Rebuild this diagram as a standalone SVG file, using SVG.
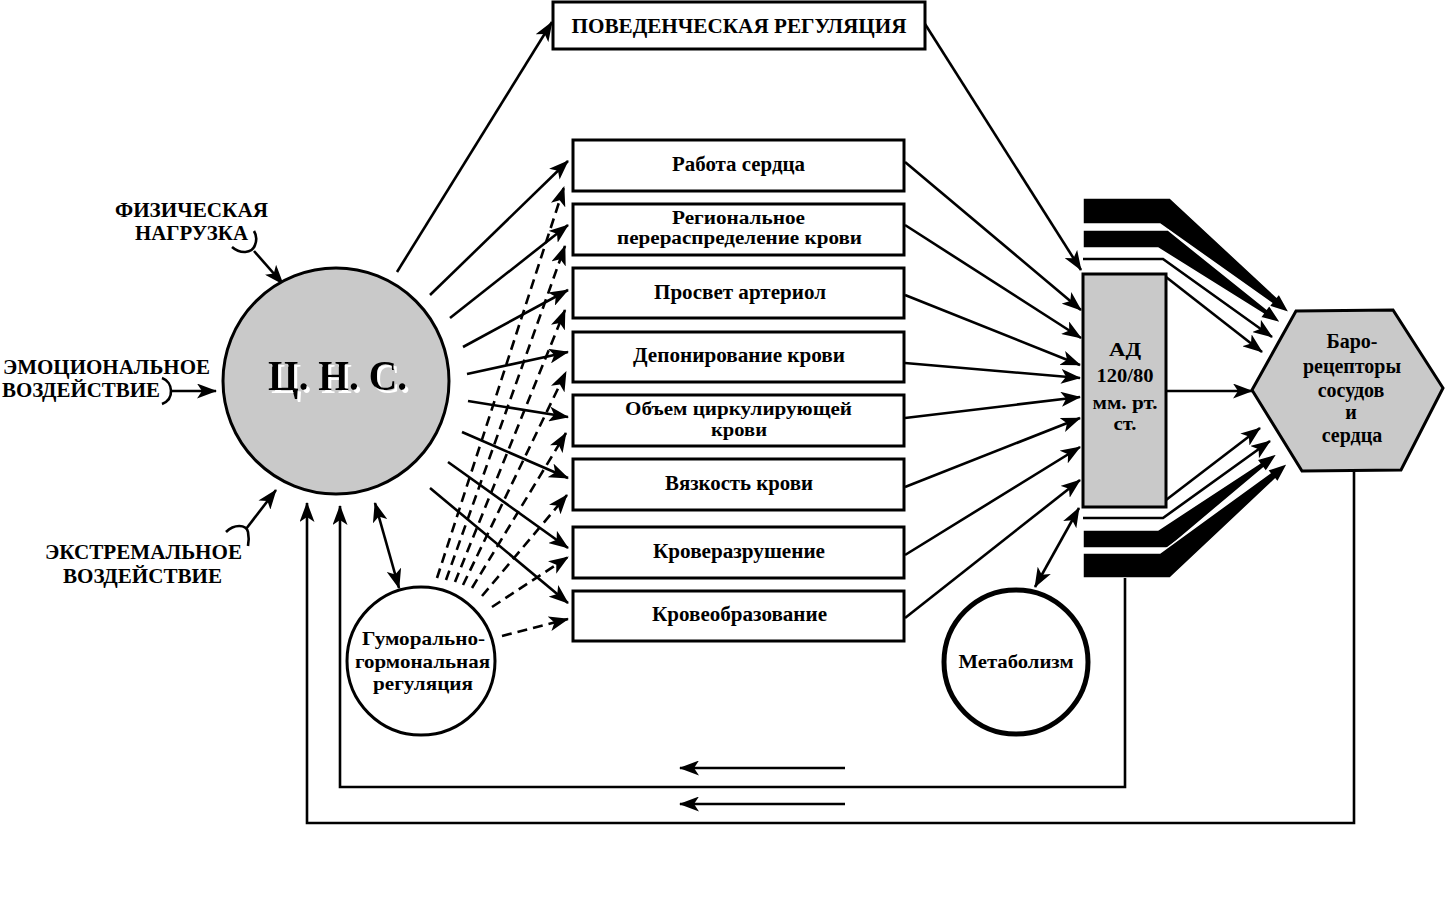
<svg xmlns="http://www.w3.org/2000/svg" width="1451" height="902" viewBox="0 0 1451 902">
<style>
text{font-family:"Liberation Serif","Times New Roman",serif;font-weight:bold;fill:#000;text-anchor:middle}
.box{fill:#fff;stroke:#000;stroke-width:3}
.gray{fill:#c9c9c9;stroke:#000;stroke-width:3}
.ln{fill:none;stroke:#000;stroke-width:2.6}
.arr{fill:none;stroke:#000;stroke-width:2.6;marker-end:url(#ah)}
.dash{fill:none;stroke:#000;stroke-width:2.6;stroke-dasharray:10 6;marker-end:url(#ah)}
.dbl{fill:none;stroke:#000;stroke-width:2.6;marker-end:url(#ah);marker-start:url(#ahs)}
.band{fill:#000;stroke:#fff;stroke-width:1.5}
.t20{font-size:20px}
.t18{font-size:18.5px}
.hx{font-size:20px}
.lbl{font-size:20px;text-anchor:start}
</style>
<defs>
<marker id="ah" markerUnits="userSpaceOnUse" markerWidth="20" markerHeight="15" refX="19" refY="7.5" orient="auto">
<path d="M0,0 L20,7.5 L0,15 L5,7.5 z" fill="#000" stroke="none"/>
</marker>
<marker id="ahs" markerUnits="userSpaceOnUse" markerWidth="20" markerHeight="15" refX="19" refY="7.5" orient="auto-start-reverse">
<path d="M0,0 L20,7.5 L0,15 L5,7.5 z" fill="#000" stroke="none"/>
</marker>
<filter id="wsh" x="-10%" y="-20%" width="120%" height="140%">
<feOffset in="SourceAlpha" dx="3" dy="2.5" result="o"/>
<feFlood flood-color="#fff"/>
<feComposite in2="o" operator="in" result="s"/>
<feMerge><feMergeNode in="s"/><feMergeNode in="SourceGraphic"/></feMerge>
</filter>
</defs>
<rect width="1451" height="902" fill="#fff"/>

<g id="connectors">
<path class="ln" d="M232,247 C240,254 252,254 255,245 C257,240 257,236 254,231"/>
<line class="arr" x1="254" y1="251" x2="283" y2="284"/>
<path class="ln" d="M162,378 C173,382 175,399 162,404"/>
<line class="arr" x1="172" y1="391" x2="216" y2="391"/>
<path class="ln" d="M226,532 C234,524 246,524 248,532 C249,537 249,541 248,546"/>
<line class="arr" x1="246" y1="529" x2="276" y2="490"/>
<line class="arr" x1="397" y1="272" x2="552" y2="22"/>
<line class="arr" x1="430" y1="295" x2="568" y2="161"/>
<line class="arr" x1="450" y1="318" x2="568" y2="225"/>
<line class="arr" x1="463" y1="347" x2="568" y2="290"/>
<line class="arr" x1="467" y1="374" x2="568" y2="352"/>
<line class="arr" x1="468" y1="401" x2="568" y2="417"/>
<line class="arr" x1="462" y1="432" x2="568" y2="478"/>
<line class="arr" x1="448" y1="462" x2="568" y2="548"/>
<line class="arr" x1="430" y1="488" x2="568" y2="603"/>
<line class="dash" x1="437" y1="578" x2="564" y2="187"/>
<line class="dash" x1="446" y1="580" x2="565" y2="246"/>
<line class="dash" x1="455" y1="582" x2="565" y2="310"/>
<line class="dash" x1="463" y1="585" x2="566" y2="372"/>
<line class="dash" x1="472" y1="588" x2="566" y2="433"/>
<line class="dash" x1="482" y1="596" x2="567" y2="495"/>
<line class="dash" x1="492" y1="607" x2="568" y2="557"/>
<line class="dash" x1="502" y1="636" x2="568" y2="619"/>
<line class="dbl" x1="375" y1="503" x2="399" y2="588"/>
<line class="dbl" x1="1035" y1="587" x2="1079" y2="508"/>
<line class="arr" x1="925" y1="24" x2="1081" y2="270"/>
<line class="arr" x1="905" y1="162" x2="1081" y2="310"/>
<line class="arr" x1="905" y1="225" x2="1081" y2="338"/>
<line class="arr" x1="905" y1="295" x2="1080" y2="365"/>
<line class="arr" x1="905" y1="363" x2="1080" y2="378"/>
<line class="arr" x1="905" y1="418" x2="1080" y2="397"/>
<line class="arr" x1="905" y1="487" x2="1080" y2="418"/>
<line class="arr" x1="905" y1="555" x2="1080" y2="447"/>
<line class="arr" x1="905" y1="618" x2="1080" y2="480"/>
<line class="arr" x1="1166" y1="391" x2="1252" y2="391"/>
<polygon class="band" points="1083,198 1170,198 1276.5,296.9 1279,293.8 1289.4,312.7 1268.9,306.2 1271.5,303.1 1160,224 1083,224"/>
<polygon class="band" points="1083,230 1168,230 1266.5,308.9 1269.2,305.2 1281,323 1260.4,317.4 1263.1,313.7 1158,248 1083,248"/>
<polyline class="arr" points="1083,259 1163,259 1272,337"/>
<line class="arr" x1="1166" y1="277" x2="1262" y2="352"/>
<line class="arr" x1="1166" y1="500" x2="1260" y2="428"/>
<polyline class="arr" points="1083,518 1163,518 1270,441"/>
<polygon class="band" points="1083,530 1158,530 1259.6,463.2 1256.9,459.6 1277.4,453.6 1265.9,471.6 1263.2,468 1168,548 1083,548"/>
<polygon class="band" points="1083,553 1160,553 1269.9,473 1267.4,470 1287.8,463.2 1277.6,482.2 1275.1,479.2 1170,578 1083,578"/>
<polyline class="arr" points="1125,578 1125,787 340,787 340,506"/>
<polyline class="arr" points="1354,470 1354,823 307,823 307,503"/>
<line class="arr" x1="845" y1="768" x2="680" y2="768"/>
<line class="arr" x1="845" y1="804" x2="680" y2="804"/>
</g>

<g id="inputs">
<text class="lbl" x="115" y="217" textLength="153" lengthAdjust="spacingAndGlyphs">ФИЗИЧЕСКАЯ</text>
<text class="lbl" x="135" y="240" textLength="113" lengthAdjust="spacingAndGlyphs">НАГРУЗКА</text>
<text class="lbl" x="3" y="374" textLength="207" lengthAdjust="spacingAndGlyphs">ЭМОЦИОНАЛЬНОЕ</text>
<text class="lbl" x="2" y="397" textLength="158" lengthAdjust="spacingAndGlyphs">ВОЗДЕЙСТВИЕ</text>
<text class="lbl" x="45" y="559" textLength="197" lengthAdjust="spacingAndGlyphs">ЭКСТРЕМАЛЬНОЕ</text>
<text class="lbl" x="63" y="583" textLength="159" lengthAdjust="spacingAndGlyphs">ВОЗДЕЙСТВИЕ</text>
</g>

<g id="cns">
<circle class="gray" cx="336" cy="381" r="113"/>
<text x="337.5" y="390" font-size="42" filter="url(#wsh)" textLength="139" lengthAdjust="spacingAndGlyphs">Ц. Н. С.</text>
</g>

<g id="behavioural">
<rect class="box" x="553" y="2" width="372" height="47"/>
<text x="739" y="33" font-size="22" textLength="335" lengthAdjust="spacingAndGlyphs">ПОВЕДЕНЧЕСКАЯ РЕГУЛЯЦИЯ</text>
</g>

<g id="box1"><rect class="box" x="573" y="140" width="331" height="51"/><text class="t20" x="738.5" y="171" textLength="133" lengthAdjust="spacingAndGlyphs">Работа сердца</text></g>
<g id="box2"><rect class="box" x="573" y="204" width="331" height="51"/><text class="t18" x="738.5" y="224" textLength="133" lengthAdjust="spacingAndGlyphs">Региональное</text><text class="t18" x="739.5" y="244" textLength="245" lengthAdjust="spacingAndGlyphs">перераспределение крови</text></g>
<g id="box3"><rect class="box" x="573" y="268" width="331" height="50"/><text class="t20" x="740" y="299" textLength="172" lengthAdjust="spacingAndGlyphs">Просвет артериол</text></g>
<g id="box4"><rect class="box" x="573" y="332" width="331" height="50"/><text class="t20" x="739" y="362" textLength="212" lengthAdjust="spacingAndGlyphs">Депонирование крови</text></g>
<g id="box5"><rect class="box" x="573" y="395" width="331" height="51"/><text class="t18" x="738.5" y="415" textLength="227" lengthAdjust="spacingAndGlyphs">Объем циркулирующей</text><text class="t18" x="739" y="436" textLength="56" lengthAdjust="spacingAndGlyphs">крови</text></g>
<g id="box6"><rect class="box" x="573" y="459" width="331" height="51"/><text class="t20" x="739" y="490" textLength="148" lengthAdjust="spacingAndGlyphs">Вязкость крови</text></g>
<g id="box7"><rect class="box" x="573" y="527" width="331" height="51"/><text class="t20" x="739" y="558" textLength="172" lengthAdjust="spacingAndGlyphs">Кроверазрушение</text></g>
<g id="box8"><rect class="box" x="573" y="591" width="331" height="50"/><text class="t20" x="739.5" y="621" textLength="175" lengthAdjust="spacingAndGlyphs">Кровеобразование</text></g>

<g id="humoral">
<circle cx="421" cy="661" r="74" fill="#fff" stroke="#000" stroke-width="3"/>
<text x="423.5" y="645" font-size="19" textLength="123" lengthAdjust="spacingAndGlyphs">Гуморально-</text>
<text x="422.5" y="668" font-size="19" textLength="135" lengthAdjust="spacingAndGlyphs">гормональная</text>
<text x="423" y="690" font-size="19" textLength="100" lengthAdjust="spacingAndGlyphs">регуляция</text>
</g>

<g id="ad">
<rect class="gray" x="1083" y="274" width="83" height="233"/>
<text x="1125" y="356" font-size="19" textLength="32" lengthAdjust="spacingAndGlyphs">АД</text>
<text x="1125" y="382" font-size="19" textLength="57" lengthAdjust="spacingAndGlyphs">120/80</text>
<text x="1125" y="409" font-size="19" textLength="65" lengthAdjust="spacingAndGlyphs">мм. рт.</text>
<text x="1125" y="430" font-size="19" textLength="23" lengthAdjust="spacingAndGlyphs">ст.</text>
</g>

<g id="baroreceptors">
<polygon class="gray" points="1252,390 1296,311 1393,310 1443,388 1401,470 1302,471"/>
<text class="hx" x="1352" y="348">Баро-</text>
<text class="hx" x="1352" y="373">рецепторы</text>
<text class="hx" x="1351" y="397">сосудов</text>
<text class="hx" x="1351" y="419">и</text>
<text class="hx" x="1352" y="442">сердца</text>
</g>

<g id="metabolism">
<circle cx="1016" cy="662" r="72" fill="#fff" stroke="#000" stroke-width="5"/>
<text x="1016" y="668" font-size="19" textLength="115" lengthAdjust="spacingAndGlyphs">Метаболизм</text>
</g>
</svg>
